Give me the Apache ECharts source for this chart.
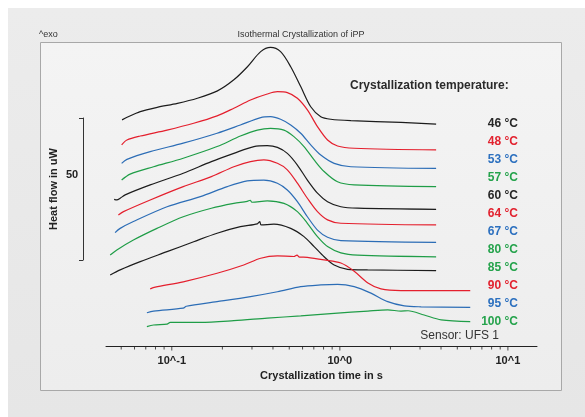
<!DOCTYPE html>
<html>
<head>
<meta charset="utf-8">
<script src="https://cdn.jsdelivr.net/npm/echarts@6/dist/echarts.min.js"></script>
<style>
html, body { margin: 0; padding: 0; background: #fff; }
#main { width: 585px; height: 417px; }
</style>
</head>
<body>
<div id="main"></div>
<script>
// crystallization temperatures, top to bottom
const temps = ['46 °C', '48 °C', '53 °C', '57 °C', '60 °C', '64 °C', '67 °C', '80 °C', '85 °C', '90 °C', '95 °C', '100 °C'];
const lineColors = ['#1c1c1c', '#e41f2d', '#2c6db6', '#1f9d47', '#1c1c1c', '#e41f2d', '#2c6db6', '#1f9d47', '#1c1c1c', '#e41f2d', '#2c6db6', '#1f9d47'];
const labelColors = ['#262626', '#e2222f', '#2c70bf', '#25a34c', '#262626', '#e2222f', '#2c70bf', '#25a34c', '#25a34c', '#e2222f', '#2c70bf', '#25a34c'];

// curves: [time in s, heat flow in uW incl. stacking offset]
const c46 = [[0.0506,79.6],[0.0542,80.5],[0.0649,82.5],[0.0819,84.0],[0.108,85.4],[0.142,87.2],[0.187,89.8],[0.233,93.6],[0.282,98.3],[0.338,103.6],[0.387,105.1],[0.444,103.6],[0.51,98.3],[0.585,91.3],[0.671,84.2],[0.77,80.7],[0.884,79.8],[1.163,79.3],[2.31,78.7],[3.74,78.1]];
const c48 = [[0.0503,70.8],[0.0541,72.5],[0.0649,73.9],[0.0937,76.0],[0.135,78.4],[0.186,81.0],[0.234,83.7],[0.294,86.6],[0.37,88.7],[0.425,89.5],[0.487,89.2],[0.559,87.2],[0.641,83.1],[0.736,77.2],[0.845,72.5],[0.969,70.4],[1.217,69.6],[3.74,69.0]];
const c53 = [[0.0503,64.3],[0.0541,65.7],[0.0744,68.4],[0.117,71.4],[0.186,74.9],[0.256,77.8],[0.338,80.4],[0.387,80.7],[0.444,79.8],[0.51,77.8],[0.585,74.9],[0.671,70.8],[0.77,67.2],[0.925,64.3],[1.163,63.1],[3.74,62.5]];
const c57 = [[0.0503,58.4],[0.0565,60.5],[0.0779,63.1],[0.117,66.1],[0.186,70.2],[0.256,73.9],[0.323,76.0],[0.387,76.6],[0.465,76.0],[0.533,73.7],[0.612,70.2],[0.703,65.5],[0.806,61.4],[0.969,57.8],[1.217,56.7],[3.74,56.1]];
const c60 = [[0.0454,51.6],[0.0471,51.4],[0.0493,52.0],[0.0528,53.2],[0.0744,56.7],[0.117,60.8],[0.172,64.9],[0.234,67.8],[0.308,70.2],[0.37,70.5],[0.425,69.9],[0.487,67.8],[0.559,63.7],[0.641,58.4],[0.736,53.8],[0.845,50.8],[1.014,49.0],[1.276,48.5],[3.74,48.1]];
const c64 = [[0.0481,46.1],[0.0516,47.3],[0.0744,51.4],[0.117,56.1],[0.172,59.6],[0.234,63.1],[0.294,64.9],[0.353,65.5],[0.425,64.3],[0.487,62.0],[0.559,57.3],[0.641,52.0],[0.736,47.3],[0.845,44.4],[1.014,43.2],[3.74,42.6]];
const c67 = [[0.046,39.9],[0.0493,41.4],[0.0591,43.8],[0.0937,49.0],[0.148,52.6],[0.214,56.1],[0.281,58.1],[0.353,58.4],[0.425,57.3],[0.487,54.9],[0.559,50.8],[0.641,45.5],[0.736,40.8],[0.845,38.3],[1.014,37.1],[3.74,36.5]];
const c80 = [[0.043,32.0],[0.0471,33.8],[0.0591,37.3],[0.0816,41.4],[0.117,45.5],[0.172,48.5],[0.234,50.2],[0.281,50.9],[0.293,51.3],[0.3,50.6],[0.37,51.1],[0.465,50.2],[0.559,47.3],[0.641,43.2],[0.736,38.5],[0.845,35.0],[1.014,32.8],[1.276,32.0],[3.74,31.4]];
const c85 = [[0.043,25.0],[0.0493,26.8],[0.0649,29.7],[0.0937,33.2],[0.135,36.7],[0.186,39.7],[0.256,42.0],[0.323,43.0],[0.334,43.8],[0.34,42.6],[0.405,42.9],[0.51,41.4],[0.612,38.5],[0.703,35.0],[0.806,31.4],[0.925,28.5],[1.112,27.0],[1.463,26.8],[3.74,26.5]];
const c90 = [[0.0744,20.1],[0.0797,20.7],[0.117,22.6],[0.186,25.6],[0.268,28.5],[0.338,30.9],[0.425,31.7],[0.533,31.5],[0.556,32.0],[0.575,31.3],[0.641,31.2],[0.806,30.3],[1.014,29.2],[1.212,26.4],[1.469,22.2],[1.757,20.1],[2.312,19.5],[5.97,19.5]];
const c95 = [[0.0711,11.7],[0.0779,12.3],[0.117,13.3],[0.122,14.0],[0.186,15.6],[0.294,17.4],[0.425,19.1],[0.585,20.9],[0.77,21.5],[0.969,21.7],[1.217,20.9],[1.531,18.6],[1.927,15.6],[2.42,14.1],[3.045,13.8],[5.97,13.6]];
const c100 = [[0.0711,6.8],[0.0779,7.4],[0.0937,7.7],[0.098,8.3],[0.148,8.3],[0.234,8.9],[0.37,9.8],[0.585,10.6],[0.925,11.5],[1.469,12.3],[1.927,12.7],[2.312,12.3],[2.546,12.4],[3.173,10.9],[4.008,9.2],[5.97,8.6]];
const curves = [c46, c48, c53, c57, c60, c64, c67, c80, c85, c90, c95, c100];

// x axis ticks (log)
const majorTicks = [0.1, 1, 10];
const tickLabels = ['10^-1', '10^0', '10^1'];
const minorTicks = [0.05, 0.06, 0.07, 0.08, 0.09, 0.2, 0.3, 0.4, 0.5, 0.6, 0.7, 0.8, 0.9, 2, 3, 4, 5, 6, 7, 8, 9];

const FONT = '"Liberation Sans", Arial, sans-serif';
const myChart = echarts.init(document.getElementById('main'));

const series = curves.map((d, i) => ({
  name: temps[i],
  type: 'line',
  data: d,
  xAxisIndex: 0,
  yAxisIndex: 0,
  symbol: 'none',
  smooth: 0.3,
  lineStyle: { color: lineColors[i], width: 1.2 },
  itemStyle: { color: lineColors[i] },
  z: 5
}));
// tick marks on the log axis, placed through the axis scale
series.push({
  type: 'scatter', xAxisIndex: 0, yAxisIndex: 0, silent: true, clip: false,
  data: minorTicks.map(t => [t, 0]),
  symbol: 'rect', symbolSize: [1, 3], symbolOffset: [0, 2],
  itemStyle: { color: '#222' }, z: 6
});
series.push({
  type: 'scatter', xAxisIndex: 0, yAxisIndex: 0, silent: true, clip: false,
  data: majorTicks.map(t => [t, 0]),
  symbol: 'rect', symbolSize: [1, 4], symbolOffset: [0, 2.5],
  itemStyle: { color: '#222' }, z: 6
});

const hidden = { axisLine: { show: false }, axisTick: { show: false }, axisLabel: { show: false }, splitLine: { show: false } };

myChart.setOption({
  backgroundColor: '#ffffff',
  animation: false,
  graphic: [
    { type: 'rect', z: -20, silent: true, shape: { x: 8, y: 8, width: 577, height: 409 },
      style: { fill: new echarts.graphic.LinearGradient(0, 0, 0, 1, [{ offset: 0, color: '#ececec' }, { offset: 1, color: '#e6e6e6' }]) } },
    { type: 'rect', z: -10, silent: true, shape: { x: 40.5, y: 42.5, width: 521, height: 348 },
      style: { fill: new echarts.graphic.LinearGradient(0, 0, 0, 1, [{ offset: 0, color: '#f4f4f4' }, { offset: 1, color: '#ededed' }]), stroke: '#a8a8a8', lineWidth: 1 } }
  ],
  title: [
    { text: 'Isothermal Crystallization of iPP', left: 301, top: 30, textAlign: 'center', padding: 0,
      textStyle: { fontFamily: FONT, fontSize: 9, fontWeight: 'normal', color: '#333' } },
    { text: '^exo', left: 39, top: 30, padding: 0,
      textStyle: { fontFamily: FONT, fontSize: 9, fontWeight: 'normal', color: '#333' } },
    { text: 'Crystallization temperature:', left: 350, top: 80, padding: 0,
      textStyle: { fontFamily: FONT, fontSize: 12, fontWeight: 'bold', color: '#2a2a2a' } },
    { text: 'Sensor: UFS 1', right: 86, top: 330, padding: 0,
      textStyle: { fontFamily: FONT, fontSize: 12, fontWeight: 'normal', color: '#333' } },
    { text: '50', left: 66, top: 169, padding: 0,
      textStyle: { fontFamily: FONT, fontSize: 11, fontWeight: 'bold', color: '#222' } }
  ],
  legend: {
    orient: 'vertical', right: 67, top: 117, padding: 0, itemGap: 5,
    itemWidth: 0, itemHeight: 14, icon: 'none', selectedMode: false,
    data: temps.map((t, i) => ({ name: t, textStyle: { color: labelColors[i] } })),
    formatter: '{a|{name}}',
    textStyle: { fontFamily: FONT, fontSize: 12, fontWeight: 'bold',
      rich: { a: { width: 40, align: 'right', lineHeight: 14, fontFamily: FONT, fontSize: 12, fontWeight: 'bold' } } }
  },
  grid: [
    { left: 106, right: 48, top: 42, bottom: 71 },
    { left: 83, top: 118, height: 142, width: 10 }
  ],
  xAxis: [
    { type: 'log', gridIndex: 0, min: 0.0406, max: 14.9, position: 'bottom',
      axisLine: { show: true, lineStyle: { color: '#222', width: 1 } },
      axisTick: { show: false },
      axisLabel: { show: true, customValues: majorTicks, margin: 9, fontFamily: FONT, fontSize: 11, fontWeight: 'bold', color: '#222',
        formatter: v => tickLabels[majorTicks.findIndex(m => Math.abs(m - v) < m * 1e-6)] || '' },
      splitLine: { show: false },
      name: 'Crystallization time in s', nameLocation: 'middle', nameGap: 21,
      nameTextStyle: { fontFamily: FONT, fontSize: 11, fontWeight: 'bold', color: '#222' } },
    { type: 'value', gridIndex: 1, show: false }
  ],
  yAxis: [
    Object.assign({ type: 'value', gridIndex: 0, min: 0, max: 107 }, hidden),
    { type: 'value', gridIndex: 1, position: 'left', min: 0, max: 50, interval: 50,
      axisLine: { show: true, lineStyle: { color: '#333', width: 1 } },
      axisTick: { show: true, length: 4, lineStyle: { color: '#333' } },
      axisLabel: { show: false }, splitLine: { show: false } },
    Object.assign({ type: 'value', gridIndex: 1, position: 'left', min: 0, max: 50,
      name: 'Heat flow in uW', nameLocation: 'middle', nameRotate: 90, nameGap: 24,
      nameTextStyle: { fontFamily: FONT, fontSize: 11, fontWeight: 'bold', color: '#222' } }, hidden)
  ],
  series: series
});
</script>
</body>
</html>
